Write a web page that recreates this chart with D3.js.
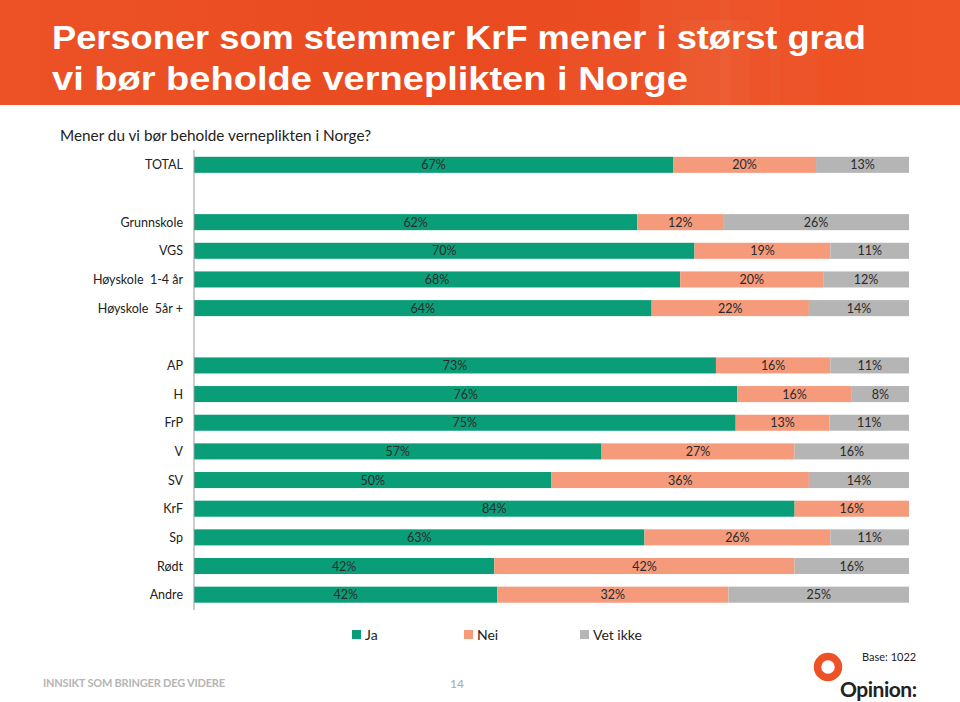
<!DOCTYPE html>
<html><head><meta charset="utf-8">
<script src="https://cdn.jsdelivr.net/npm/d3@7"></script>
<style>body{margin:0;background:#fff;}svg{display:block;font-family:Lato,"Liberation Sans",sans-serif;}</style>
</head><body>
<script>
const categories = ["TOTAL","gap1","Grunnskole","VGS","Høyskole  1-4 år","Høyskole  5år +","gap2","AP","H","FrP","V","SV","KrF","Sp","Rødt","Andre"];
const ja      = [67,null,62,70,68,64,null,73,76,75,57,50,84,63,42,42];
const nei     = [20,null,12,19,20,22,null,16,16,13,27,36,16,26,42,32];
const vetIkke = [13,null,26,11,12,14,null,11,8,11,16,14,0,11,16,25];
const seriesNames = ["Ja","Nei","Vet ikke"];
const colors = ["#0a9e78","#f59a7b","#b5b5b5"];

const W=960,H=702;
const svg=d3.select("body").append("svg").attr("width",W).attr("height",H);

// header
const defs=svg.append("defs");
const g=defs.append("linearGradient").attr("id","hg").attr("x1","0").attr("x2","1").attr("y1","0").attr("y2","0");
g.append("stop").attr("offset","0").attr("stop-color","#ec5226");
g.append("stop").attr("offset","0.5").attr("stop-color","#ea4a20");
g.append("stop").attr("offset","1").attr("stop-color","#ee5426");
svg.append("rect").attr("x",0).attr("y",0).attr("width",W).attr("height",105).attr("fill","url(#hg)");
[[640,0,90,105,0.03],[680,20,70,85,0.035],[560,30,80,75,0.025],[720,0,60,105,0.025],[770,40,50,65,0.02]].forEach(r=>{
  svg.append("rect").attr("x",r[0]).attr("y",r[1]).attr("width",r[2]).attr("height",r[3]).attr("fill","#fff").attr("opacity",r[4]);
});
const title=svg.append("text").attr("fill","#fff").attr("font-weight","bold")
  .attr("font-family","'Liberation Sans',Arimo,sans-serif").attr("font-size",34);
title.append("tspan").attr("x",52).attr("y",49).attr("textLength",814).attr("lengthAdjust","spacingAndGlyphs").text("Personer som stemmer KrF mener i størst grad");
title.append("tspan").attr("x",52).attr("y",90).attr("textLength",636).attr("lengthAdjust","spacingAndGlyphs").text("vi bør beholde verneplikten i Norge");

svg.append("text").attr("x",60).attr("y",141).attr("font-size",15.3).attr("fill","#222")
  .text("Mener du vi bør beholde verneplikten i Norge?");

// chart
const x0=194,x1=909;
const x=d3.scaleLinear().domain([0,1]).range([x0,x1]);
const y=d3.scaleBand().domain(categories).range([150.5,609]).paddingInner(0.44).paddingOuter(0.22);

const rows=categories.map((c,i)=>({cat:c,vals:[ja[i],nei[i],vetIkke[i]]})).filter(d=>d.vals[0]!=null);
rows.forEach(r=>{
  const tot=d3.sum(r.vals); let acc=0;
  r.segs=r.vals.map((v,k)=>{const s={k,v,a:acc/tot,b:(acc+v)/tot,cat:r.cat};acc+=v;return s;});
});
const rowG=svg.append("g").selectAll("g").data(rows).join("g");
rowG.selectAll("rect").data(d=>d.segs.filter(s=>s.v>0)).join("rect")
  .attr("x",d=>x(d.a)).attr("width",d=>x(d.b)-x(d.a))
  .attr("y",d=>y(d.cat)).attr("height",y.bandwidth()).attr("fill",d=>colors[d.k]);
rowG.selectAll("text").data(d=>d.segs.filter(s=>s.v>0)).join("text")
  .attr("x",d=>(x(d.a)+x(d.b))/2).attr("y",d=>y(d.cat)+y.bandwidth()/2+4.5)
  .attr("text-anchor","middle").attr("font-size",12.5).attr("fill","#2a2a2a").text(d=>d.v+"%");

// axis
svg.append("line").attr("x1",x0).attr("x2",x0).attr("y1",150).attr("y2",610).attr("stroke","#999").attr("stroke-width",1);
svg.append("g").selectAll("text").data(rows).join("text")
  .attr("x",183).attr("y",d=>y(d.cat)+y.bandwidth()/2+4.5).attr("text-anchor","end")
  .attr("font-size",12.5).attr("fill","#222").attr("xml:space","preserve").text(d=>d.cat);

// legend
const lx=[352,464,580];
const lg=svg.append("g").selectAll("g").data(seriesNames).join("g");
lg.append("rect").attr("x",(d,i)=>lx[i]).attr("y",630).attr("width",9).attr("height",9).attr("fill",(d,i)=>colors[i]);
lg.append("text").attr("x",(d,i)=>lx[i]+13).attr("y",640).attr("font-size",14).attr("fill","#222").text(d=>d);

// footer
svg.append("text").attr("x",43).attr("y",687).attr("font-size",11).attr("font-weight","bold").attr("fill","#b5b5b5")
  .attr("letter-spacing",-0.2).text("INNSIKT SOM BRINGER DEG VIDERE");
svg.append("text").attr("x",450).attr("y",688).attr("font-size",12).attr("fill","#aaa").text("14");
svg.append("text").attr("x",862).attr("y",661).attr("font-size",11).attr("fill","#222").text("Base: 1022");
svg.append("circle").attr("cx",828).attr("cy",667).attr("r",10.5).attr("fill","none").attr("stroke","#ec5226").attr("stroke-width",7.5);
svg.append("text").attr("x",840).attr("y",697).attr("font-size",21).attr("font-weight","bold").attr("fill","#222")
  .attr("letter-spacing",-0.5).text("Opinion:");
</script>
</body></html>
